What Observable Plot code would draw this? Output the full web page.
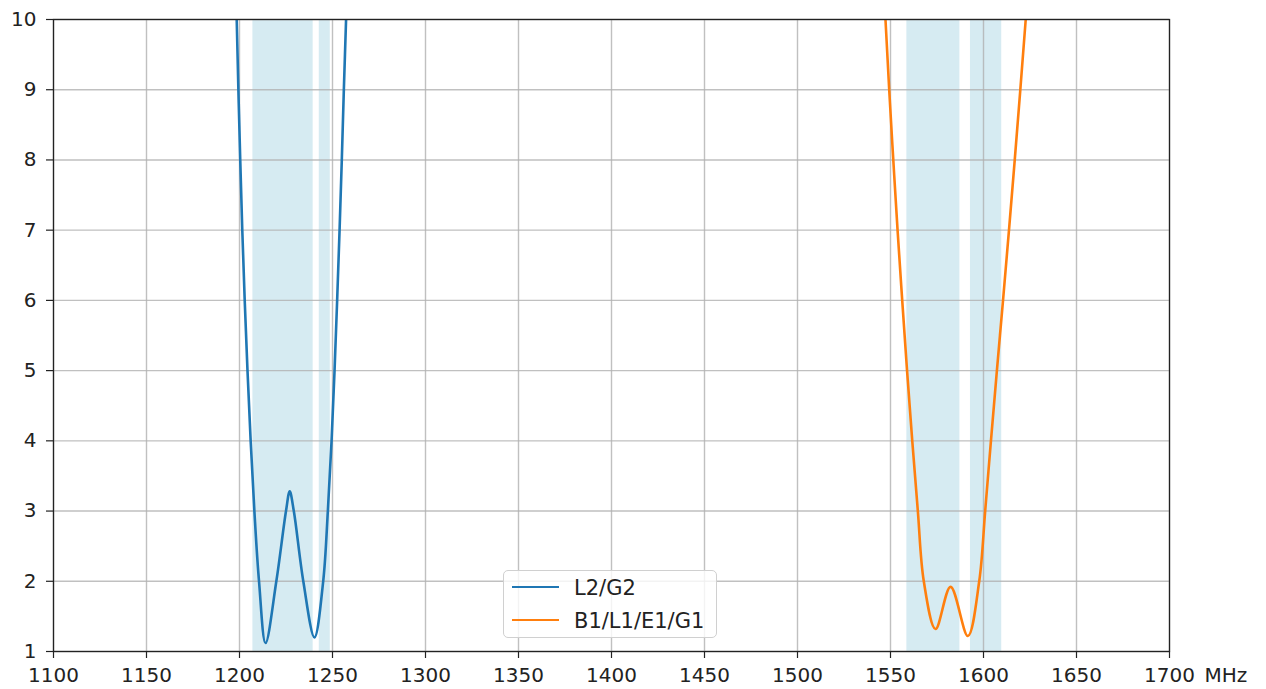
<!DOCTYPE html>
<html>
<head>
<meta charset="utf-8">
<script src="https://cdn.jsdelivr.net/npm/d3@7"></script>
<script src="https://cdn.jsdelivr.net/npm/@observablehq/plot@0.6"></script>
<style>
  html, body { margin: 0; padding: 0; background: #fff; overflow: hidden; }
  #wrap { position: relative; width: 1266px; height: 689px; }
  #legend {
    position: absolute; left: 503px; top: 570px; width: 212px; height: 66px;
    border: 1px solid #d0d0d0; border-radius: 5px; background: rgba(255,255,255,0.8);
    font-family: "DejaVu Sans", sans-serif; font-size: 21px; color: #222;
  }
  .item { position: absolute; left: 8px; height: 26px; display: flex; align-items: center; }
  .swatch { width: 47px; height: 0; border-top: 2.6px solid; margin-right: 15px; position: relative; top: -1px; }
</style>
</head>
<body>
<div id="wrap"><div id="legend"></div></div>
<script>
// x ticks (MHz) and y ticks
const xTicks = [1100, 1150, 1200, 1250, 1300, 1350, 1400, 1450, 1500, 1550, 1600, 1650, 1700];
const yTicks = [1, 2, 3, 4, 5, 6, 7, 8, 9, 10];
const xUnit = "MHz";

// series names and colours
const seriesNames = ["L2/G2", "B1/L1/E1/G1"];
const seriesColors = ["#1f77b4", "#ff7f0e"];

// shaded frequency bands (MHz)
const bandStart = [1207.2, 1242.9, 1558.8, 1593.0];
const bandEnd   = [1239.6, 1248.8, 1587.3, 1609.8];

// L2/G2 curve
const l2Freq = [1197.6, 1198.5, 1199.4, 1200.4, 1201.5, 1202.8, 1204.3, 1206.0, 1208.0, 1210.5, 1214.0, 1219.8, 1225.0, 1227.0, 1229.2, 1234.3, 1240.3, 1245.0, 1247.5, 1249.5, 1251.1, 1252.5, 1253.8, 1255.0, 1256.1, 1257.3, 1258.4];
const l2Vswr = [11.0, 10.0, 9.0, 8.0, 7.0, 6.0, 5.0, 4.0, 3.0, 2.0, 1.12, 2.0, 3.0, 3.28, 3.0, 2.0, 1.2, 2.0, 3.0, 4.0, 5.0, 6.0, 7.0, 8.0, 9.0, 10.0, 11.0];

// B1/L1/E1/G1 curve
const l1Freq = [1545.4, 1547.3, 1549.3, 1551.5, 1553.8, 1556.3, 1558.9, 1561.7, 1564.7, 1567.9, 1574.2, 1582.3, 1591.6, 1597.7, 1600.9, 1604.0, 1607.2, 1610.5, 1613.7, 1616.8, 1619.8, 1622.7, 1625.5];
const l1Vswr = [11.0, 10.0, 9.0, 8.0, 7.0, 6.0, 5.0, 4.0, 3.0, 2.0, 1.32, 1.92, 1.22, 2.0, 3.0, 4.0, 5.0, 6.0, 7.0, 8.0, 9.0, 10.0, 11.0];

const bands = bandStart.map((s, i) => ({start: s, end: bandEnd[i]}));
const l2 = l2Freq.map((f, i) => ({f, v: l2Vswr[i]}));
const l1 = l1Freq.map((f, i) => ({f, v: l1Vswr[i]}));

const chart = Plot.plot({
  width: 1266, height: 689,
  marginLeft: 53, marginRight: 97, marginTop: 19, marginBottom: 38,
  style: {fontFamily: "DejaVu Sans, sans-serif", fontSize: "20px", background: "white", color: "#222", overflow: "visible"},
  x: {domain: [xTicks[0], xTicks[xTicks.length - 1]], label: null},
  y: {domain: [yTicks[0], yTicks[yTicks.length - 1]], label: null},
  marks: [
    Plot.rect(bands, {x1: "start", x2: "end", fill: "#add8e6", fillOpacity: 0.5}),
    Plot.gridX(xTicks, {stroke: "#b0b0b0", strokeOpacity: 0.8, strokeWidth: 1.4}),
    Plot.gridY(yTicks, {stroke: "#b0b0b0", strokeOpacity: 0.8, strokeWidth: 1.4}),
    Plot.line(l2, {x: "f", y: "v", stroke: seriesColors[0], strokeWidth: 2.6, curve: "catmull-rom", clip: true}),
    Plot.line(l1, {x: "f", y: "v", stroke: seriesColors[1], strokeWidth: 2.6, curve: "catmull-rom", clip: true}),
    Plot.frame({stroke: "#222", strokeWidth: 1.3}),
    Plot.axisX(xTicks, {tickSize: 7, tickPadding: 9, fontSize: 20, tickFormat: d => String(d), stroke: "#222", strokeWidth: 1.2}),
    Plot.axisY(yTicks, {tickSize: 7, tickPadding: 10, fontSize: 20, tickFormat: d => String(d), stroke: "#222", strokeWidth: 1.2}),
    Plot.text([xUnit], {x: xTicks[xTicks.length - 1], frameAnchor: "bottom", text: d => d, textAnchor: "start", lineAnchor: "top", dx: 35, dy: 16, fontSize: 20, fill: "#222"})
  ]
});
document.getElementById("wrap").prepend(chart);

const legend = document.getElementById("legend");
seriesNames.forEach((name, i) => {
  const item = document.createElement("div");
  item.className = "item";
  item.style.top = (4 + i * 33) + "px";
  const sw = document.createElement("span");
  sw.className = "swatch";
  sw.style.borderTopColor = seriesColors[i];
  const label = document.createElement("span");
  label.textContent = name;
  item.appendChild(sw);
  item.appendChild(label);
  legend.appendChild(item);
});
</script>
</body>
</html>
